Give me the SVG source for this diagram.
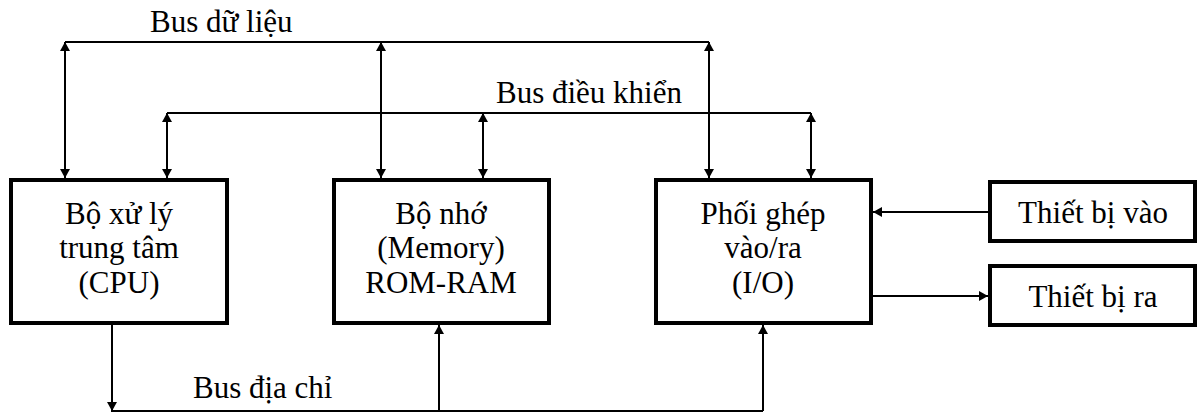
<svg xmlns="http://www.w3.org/2000/svg" width="1199" height="416" viewBox="0 0 1199 416">
  <style>
    .box { fill: #fff; stroke: #000; stroke-width: 4; }
    .wire { fill: none; stroke: #000; stroke-width: 2; }
    .arr { fill: none; stroke: #000; stroke-width: 2; marker-end: url(#head); }
    .both { fill: none; stroke: #000; stroke-width: 2; marker-start: url(#head); marker-end: url(#head); }
  </style>
  <defs>
    <marker id="head" markerUnits="userSpaceOnUse" markerWidth="10" markerHeight="10" refX="9" refY="5" orient="auto-start-reverse">
      <path d="M0,0 L9,5 L0,10 z" fill="#000"/>
    </marker>
  </defs>

  <!-- bus lines and links -->
  <g id="connectors">
    <!-- data bus -->
    <path class="wire" d="M65,42 H709"/>
    <path class="both" d="M65,42 V178"/>
    <path class="both" d="M381,42 V178"/>
    <path class="both" d="M709,42 V178"/>
    <!-- control bus -->
    <path class="wire" d="M167,113 H811"/>
    <path class="both" d="M167,113 V178"/>
    <path class="both" d="M483,113 V178"/>
    <path class="both" d="M811,113 V178"/>
    <!-- address bus -->
    <path class="arr" d="M112,325 V411"/>
    <path class="wire" d="M111,411 H763"/>
    <path class="arr" d="M439,411 V325"/>
    <path class="arr" d="M763,411 V325"/>
    <!-- peripherals -->
    <path class="arr" d="M988,212 H873"/>
    <path class="arr" d="M873,296 H988"/>
  </g>

  <g id="labels">
    <text x="150" y="32" font-family="Liberation Serif" font-size="31">Bus dữ liệu</text>
    <text x="496" y="103" font-family="Liberation Serif" font-size="31">Bus điều khiển</text>
    <text x="193" y="398" font-family="Liberation Serif" font-size="31">Bus địa chỉ</text>
  </g>

  <g id="cpu">
    <rect class="box" x="11" y="180" width="216" height="143"/>
    <text x="119" y="224" font-family="Liberation Serif" font-size="31" text-anchor="middle">Bộ xử lý</text>
    <text x="119" y="258" font-family="Liberation Serif" font-size="31" text-anchor="middle">trung tâm</text>
    <text x="119" y="293" font-family="Liberation Serif" font-size="31" text-anchor="middle">(CPU)</text>
  </g>

  <g id="memory">
    <rect class="box" x="334" y="180" width="215" height="143"/>
    <text x="441" y="224" font-family="Liberation Serif" font-size="31" text-anchor="middle">Bộ nhớ</text>
    <text x="441" y="258" font-family="Liberation Serif" font-size="31" text-anchor="middle">(Memory)</text>
    <text x="441" y="293" font-family="Liberation Serif" font-size="31" text-anchor="middle">ROM-RAM</text>
  </g>

  <g id="io">
    <rect class="box" x="656" y="180" width="215" height="143"/>
    <text x="763" y="224" font-family="Liberation Serif" font-size="31" text-anchor="middle">Phối ghép</text>
    <text x="763" y="258" font-family="Liberation Serif" font-size="31" text-anchor="middle">vào/ra</text>
    <text x="763" y="293" font-family="Liberation Serif" font-size="31" text-anchor="middle">(I/O)</text>
  </g>

  <g id="input-device">
    <rect class="box" x="990" y="182" width="205" height="59"/>
    <text x="1093" y="223" font-family="Liberation Serif" font-size="31" text-anchor="middle">Thiết bị vào</text>
  </g>

  <g id="output-device">
    <rect class="box" x="990" y="266" width="205" height="59"/>
    <text x="1093" y="307" font-family="Liberation Serif" font-size="31" text-anchor="middle">Thiết bị ra</text>
  </g>
</svg>
